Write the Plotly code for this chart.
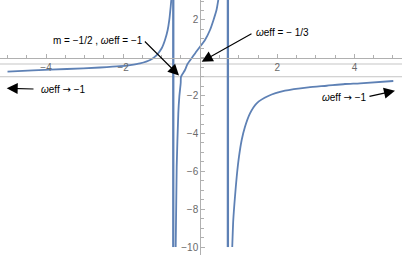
import plotly.graph_objects as go

# ---- data (m, omega_eff) ----
left_m = [-5.0, -4.34, -3.46, -2.6, -2.08, -1.82, -1.56, -1.3, -1.13, -1.0, -0.915, -0.845, -0.803, -0.767, -0.751]
left_w = [-0.735, -0.666, -0.592, -0.513, -0.444, -0.381, -0.291, -0.116, 0.148, 0.502, 0.941, 1.469, 2.0, 2.70, 3.06]

mid_m = [-0.637, -0.611, -0.569, -0.543, -0.507, -0.499, -0.396, -0.331, -0.214, -0.071, 0.123, 0.253, 0.344, 0.422, 0.468]
mid_w = [-10.0, -5.756, -2.918, -2.056, -1.332, -0.999, -0.645, -0.328, 0.005, 0.412, 0.941, 1.469, 2.003, 2.526, 3.06]

right_m = [0.83, 0.857, 0.901, 0.946, 1.005, 1.075, 1.161, 1.291, 1.464, 1.765, 2.198, 2.803, 3.28, 3.755, 4.144, 5.008]
right_w = [-10.0, -8.573, -7.341, -6.284, -5.227, -4.345, -3.642, -2.933, -2.405, -2.019, -1.739, -1.559, -1.475, -1.385, -1.348, -1.226]

pole_m = [-0.70, 0.717]
ref_levels = [-1/3, -1.0]

x_ticks = [-4, -2, 2, 4]
y_ticks = [-10, -8, -6, -4, -2, 2]

XR = [-5.195, 5.234]
YR = [-10.42, 3.055]

BLUE = "rgb(94,129,181)"
AXC = "#b0b0b0"
LBL = "#6a6a6a"
FONT = "Liberation Sans"

fig = go.Figure()

for lv, col, wd in zip(ref_levels, ["#e2e2e2", "#c4c4c4"], [2, 1]):
    fig.add_shape(type="line", xref="paper", x0=0, x1=1, yref="y", y0=lv, y1=lv,
                  line=dict(color=col, width=wd), layer="below")

for xs, ys in [(left_m, left_w), (mid_m, mid_w), (right_m, right_w)]:
    fig.add_trace(go.Scatter(x=xs, y=ys, mode="lines",
                             line=dict(color=BLUE, width=1.8, shape="spline", smoothing=0.6),
                             hoverinfo="skip", showlegend=False))

for pm in pole_m:
    fig.add_trace(go.Scatter(x=[pm, pm], y=[-10.0, YR[1]], mode="lines",
                             line=dict(color=BLUE, width=2.3),
                             hoverinfo="skip", showlegend=False))

xpos0 = (0 - YR[0]) / (YR[1] - YR[0])
ypos0 = (0 - XR[0]) / (XR[1] - XR[0])


def fmt(v):
    return f"\u2212{abs(v)}" if v < 0 else str(v)


fig.update_layout(
    width=402, height=255, autosize=False,
    margin=dict(l=0, r=0, t=0, b=0),
    paper_bgcolor="white", plot_bgcolor="white",
    font=dict(family=FONT, size=10, color=LBL),
    hovermode=False,
    xaxis=dict(range=XR, anchor="free", position=xpos0, side="bottom",
               showgrid=False, zeroline=False, showline=True, linecolor=AXC, linewidth=1,
               tickmode="array", tickvals=x_ticks, ticktext=[fmt(v) for v in x_ticks],
               ticks="inside", ticklen=4, tickcolor=AXC, tickwidth=1,
               minor=dict(dtick=0.5, tick0=0, ticks="inside", ticklen=2.5, tickcolor=AXC, tickwidth=1),
               tickfont=dict(family=FONT, size=10, color=LBL)),
    yaxis=dict(range=YR, anchor="free", position=ypos0, side="left",
               showgrid=False, zeroline=False, showline=True, linecolor=AXC, linewidth=1,
               tickmode="array", tickvals=y_ticks, ticktext=[fmt(v) for v in y_ticks],
               ticks="inside", ticklen=4, tickcolor=AXC, tickwidth=1,
               minor=dict(dtick=0.5, tick0=0, ticks="inside", ticklen=2.5, tickcolor=AXC, tickwidth=1),
               tickfont=dict(family=FONT, size=10, color=LBL)),
)

W = "<i>\u03c9</i>eff"
ARR = "<span style='font-family:DejaVu Sans'>\u2192</span>"
texts = [
    (f"m = \u22121/2 , {W} = \u22121", -2.665, 0.904),
    (f"{W} = \u2212 1/3", 2.134, 1.348),
    (f"{W} {ARR} \u22121", -3.547, -1.649),
    (f"{W} {ARR} \u22121", 3.742, -2.109),
]
for t, x, y in texts:
    fig.add_annotation(x=x, y=y, text=t, showarrow=False,
                       font=dict(family=FONT, size=10, color="black"))

arrows = [
    (-1.476, 0.941, -0.551, -0.936),
    (1.368, 1.311, 0.038, -0.206),
    (-4.287, -1.649, -5.021, -1.612),
    (4.351, -2.056, 5.052, -1.739),
]
for ax, ay, x, y in arrows:
    fig.add_annotation(x=x, y=y, ax=ax, ay=ay, axref="x", ayref="y", text="",
                       showarrow=True, arrowhead=2, arrowsize=2.0, arrowwidth=1.1,
                       arrowcolor="black", standoff=0, startstandoff=0)

fig.write_html("out.html", config={"displayModeBar": False, "staticPlot": True},
               post_script="document.body.style.margin='0';document.body.style.padding='0';"
                           "document.documentElement.style.overflow='hidden';")
